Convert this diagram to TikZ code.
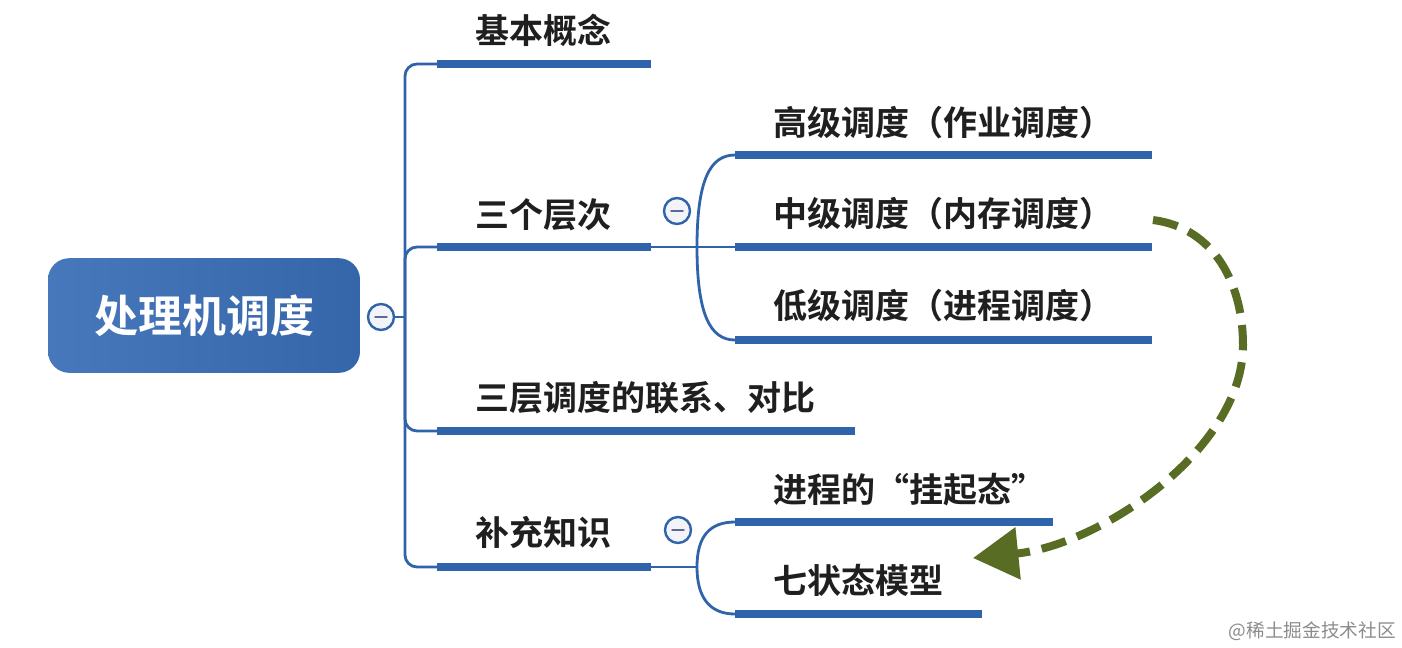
\documentclass[tikz,border=0pt]{standalone}
\usepackage{fontspec}
\newfontfamily\cjk{Noto Sans CJK SC}[BoldFont={Noto Sans CJK SC Bold}]
\usetikzlibrary{arrows.meta}
\definecolor{bl}{RGB}{47,99,170}
\definecolor{rootA}{RGB}{72,120,188}
\definecolor{rootB}{RGB}{54,102,170}
\definecolor{grn}{RGB}{88,108,36}
\definecolor{minusc}{RGB}{92,104,150}
\definecolor{foldfill}{RGB}{242,244,250}
\begin{document}
\begin{tikzpicture}[x=0.75pt,y=-0.75pt,
  lbl/.style={anchor=west,inner sep=0pt,font=\cjk\bfseries\fontsize{25.5}{28}\selectfont,text=black!88},
  uline/.style={draw=bl,line width=6pt},
  conn/.style={draw=bl,line width=2.1pt},
  fold/.style={circle,draw=bl,line width=1.8pt,fill=foldfill,minimum size=19.5pt,inner sep=0pt},
  minusbar/.style={draw=minusc,line width=2.2pt,line cap=round},
  rootbox/.style={rounded corners=16pt,left color=rootA,right color=rootB,draw=none,
    minimum width=234pt,minimum height=86pt,text=white,font=\cjk\bfseries\fontsize{33}{36}\selectfont},
  dasharrow/.style={draw=grn,line width=6pt,dash pattern=on 19pt off 9pt,
    -{Triangle[length=34pt,width=38pt,fill=grn]}},
  wmark/.style={anchor=east,inner sep=0pt,text=black!45,font=\cjk\fontsize{14}{16}\selectfont}
]
\useasboundingbox (0,0) rectangle (1402,647);
\fill[white] (0,0) rectangle (1402,647);

% root
\node[rootbox] (root) at (204,315.5) {处理机调度};
\node[fold] (f0) at (381,317) {};
\draw[minusbar] ([xshift=-4.2pt]f0.center) -- ([xshift=4.2pt]f0.center);

% trunk coordinates
\coordinate (t) at (405,317);
\coordinate (b1s) at (437,64);  \coordinate (b1e) at (651,64);
\coordinate (b2s) at (437,247); \coordinate (b2e) at (651,247);
\coordinate (b3s) at (437,431); \coordinate (b3e) at (855,431);
\coordinate (b4s) at (437,567); \coordinate (b4e) at (651,567);

\draw[conn] (f0.east) -- (t);
\draw[conn,rounded corners=9pt] (t) |- (b1s);
\draw[conn,rounded corners=9pt] (t) |- (b2s);
\draw[conn,rounded corners=9pt] (t) |- (b3s);
\draw[conn,rounded corners=9pt] (t) |- (b4s);

\draw[uline] (b1s) -- (b1e);
\draw[uline] (b2s) -- (b2e);
\draw[uline] (b3s) -- (b3e);
\draw[uline] (b4s) -- (b4e);

\node[lbl] (n1) at (475,30) {基本概念};
\node[lbl] (n2) at (475,215) {三个层次};
\node[lbl] (n3) at (475,398) {三层调度的联系、对比};
\node[lbl] (n4) at (475,533) {补充知识};

% sub-branches of 三个层次
\node[fold] (f2) at (677,211) {};
\draw[minusbar] ([xshift=-4.2pt]f2.center) -- ([xshift=4.2pt]f2.center);
\coordinate (j2) at (697,247);
\coordinate (c1s) at (735,155); \coordinate (c1e) at (1152,155);
\coordinate (c2s) at (735,247); \coordinate (c2e) at (1152,247);
\coordinate (c3s) at (735,340); \coordinate (c3e) at (1152,340);
\draw[conn] (b2e) -- (c2s);
\draw[conn] (j2) .. controls (697,180) and (710,155) .. (c1s);
\draw[conn] (j2) .. controls (697,314) and (710,340) .. (c3s);
\draw[uline] (c1s) -- (c1e);
\draw[uline] (c2s) -- (c2e);
\draw[uline] (c3s) -- (c3e);
\node[lbl] (m1) at (773,123) {高级调度（作业调度）};
\node[lbl] (m2) at (773,214) {中级调度（内存调度）};
\node[lbl] (m3) at (773,306) {低级调度（进程调度）};

% sub-branches of 补充知识
\node[fold] (f4) at (678,530) {};
\draw[minusbar] ([xshift=-4.2pt]f4.center) -- ([xshift=4.2pt]f4.center);
\coordinate (j4) at (697,567);
\coordinate (d1s) at (735,522); \coordinate (d1e) at (1053,522);
\coordinate (d2s) at (735,614); \coordinate (d2e) at (982,614);
\draw[conn] (b4e) -- (j4);
\draw[conn] (j4) .. controls (697,536) and (710,522) .. (d1s);
\draw[conn] (j4) .. controls (697,598) and (710,614) .. (d2s);
\draw[uline] (d1s) -- (d1e);
\draw[uline] (d2s) -- (d2e);
\node[lbl] (p1) at (773,490) {进程的“挂起态”};
\node[lbl] (p2) at (773,580) {七状态模型};

% green dashed arrow
\coordinate (arrS) at (1153,220);
\coordinate (arrE) at (973,558);
\draw[dasharrow] (arrS) .. controls (1215,228) and (1243,285) .. (1243,345)
  .. controls (1243,450) and (1100,545) .. (arrE);

% watermark
\node[wmark] (wm) at (1396,631) {@稀土掘金技术社区};
\end{tikzpicture}
\end{document}
